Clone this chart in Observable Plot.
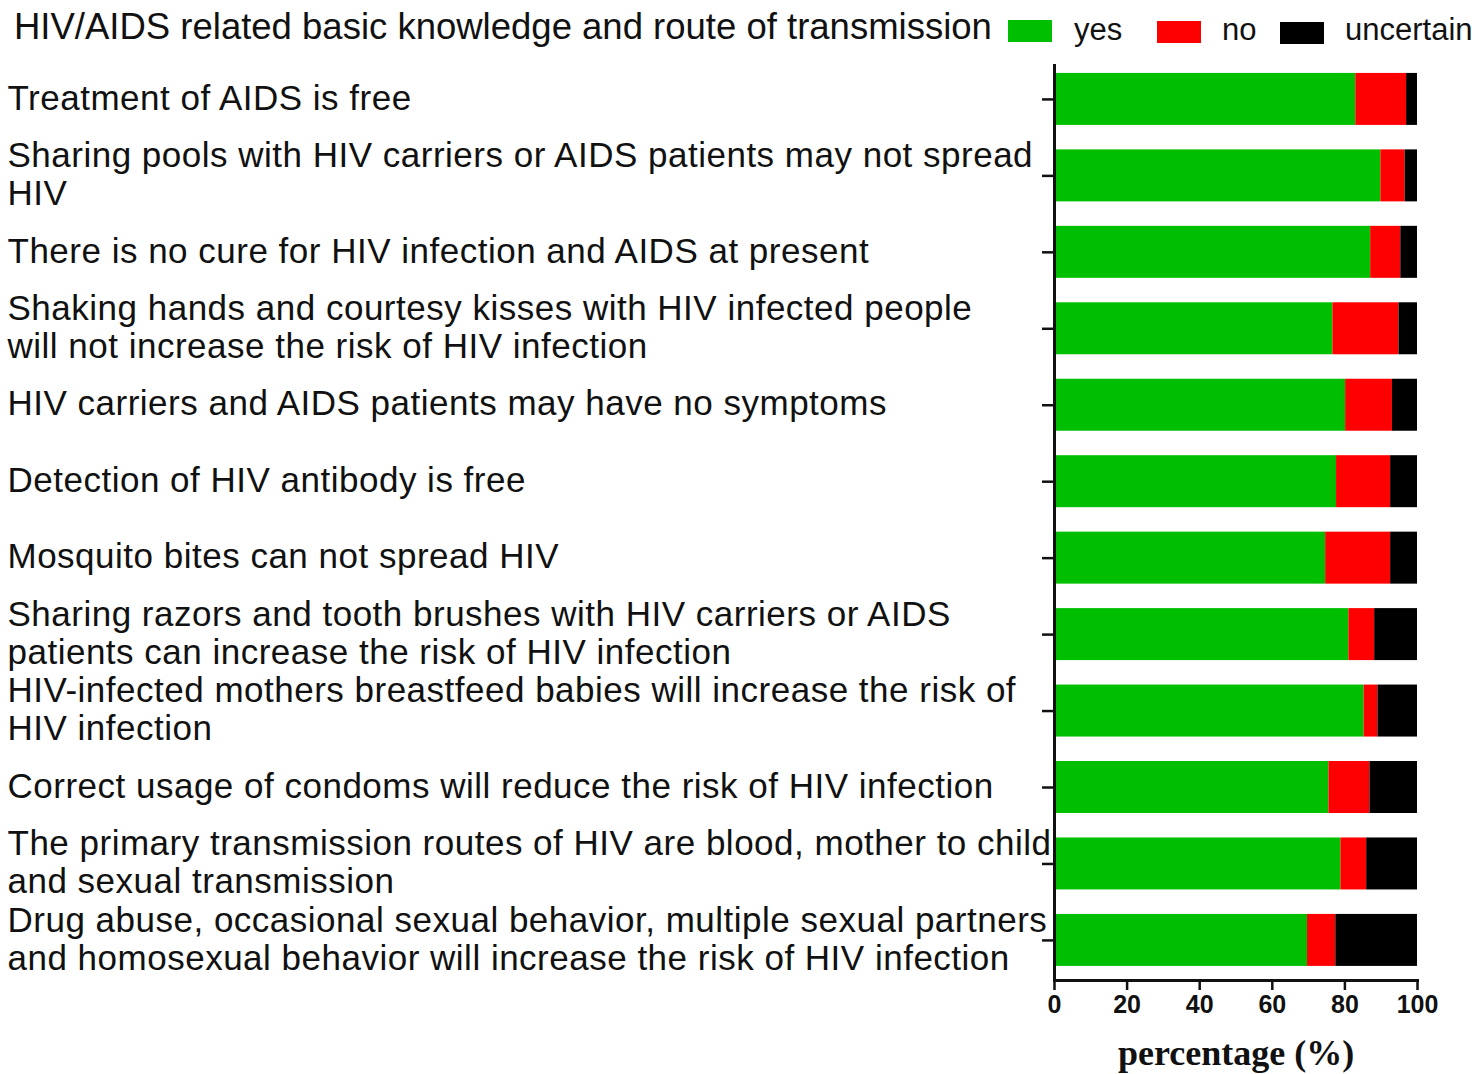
<!DOCTYPE html>
<html>
<head>
<meta charset="utf-8">
<script src="https://cdn.jsdelivr.net/npm/d3@7"></script>
<script src="https://cdn.jsdelivr.net/npm/@observablehq/plot@0.6"></script>
<style>
  html, body { margin: 0; padding: 0; background: #fff; }
  body { width: 1478px; height: 1074px; overflow: hidden; font-family: "Liberation Sans", Arial, sans-serif; }
  #header { position: relative; width: 1478px; height: 58px; color: #111; }
  #header .title { position: absolute; left: 14px; top: 7px; font-size: 36.5px; line-height: 40px; white-space: nowrap; }
  #header .sw { position: absolute; width: 44px; height: 22px; }
  #header .lab { position: absolute; top: 13px; font-size: 31px; line-height: 34px; white-space: nowrap; }
  #chart svg { display: block; }
</style>
</head>
<body>
<div id="header">
  <span class="title">HIV/AIDS related basic knowledge and route of transmission</span>
  <span class="sw" style="left:1008px; top:20px; background:#00bf00"></span>
  <span class="lab" style="left:1074px">yes</span>
  <span class="sw" style="left:1157px; top:21px; background:#ff0000"></span>
  <span class="lab" style="left:1222px">no</span>
  <span class="sw" style="left:1280px; top:22px; background:#000000"></span>
  <span class="lab" style="left:1345px">uncertain</span>
</div>
<div id="chart"></div>
<script>
const categories = [
  "Treatment of AIDS is free",
  "Sharing pools with HIV carriers or AIDS patients may not spread\nHIV",
  "There is no cure for HIV infection and AIDS at present",
  "Shaking hands and courtesy kisses with HIV infected people\nwill not increase the risk of HIV infection",
  "HIV carriers and AIDS patients may have no symptoms",
  "Detection of HIV antibody is free",
  "Mosquito bites can not spread HIV",
  "Sharing razors and tooth brushes with HIV carriers or AIDS\npatients can increase the risk of HIV infection",
  "HIV-infected mothers breastfeed babies will increase the risk of\nHIV infection",
  "Correct usage of condoms will reduce the risk of HIV infection",
  "The primary transmission routes of HIV are blood, mother to child\nand sexual transmission",
  "Drug abuse, occasional sexual behavior, multiple sexual partners\nand homosexual behavior will increase the risk of HIV infection"
];
const answers = ["yes", "no", "uncertain"];
const colors = ["#00bf00", "#ff0000", "#000000"];
const yesValues = [83.0, 89.9, 87.1, 76.7, 80.2, 77.7, 74.7, 81.1, 85.3, 75.6, 78.9, 69.7];
const noValues = [14.0, 6.7, 8.3, 18.2, 12.9, 14.9, 17.9, 7.1, 3.8, 11.3, 7.1, 7.8];
const uncertainValues = [3.0, 3.4, 4.6, 5.1, 6.9, 7.4, 7.4, 11.8, 10.9, 13.1, 14.0, 22.5];
const xTicks = [0, 20, 40, 60, 80, 100];
const xLabel = "percentage (%)";

const seriesValues = {yes: yesValues, no: noValues, uncertain: uncertainValues};
const rows = answers.flatMap(a => categories.map((c, i) => ({item: c, answer: a, value: seriesValues[a][i]})));

const chart = Plot.plot({
  width: 1478,
  height: 1016,
  marginLeft: 1054,
  marginRight: 61,
  marginTop: 7,
  marginBottom: 94,
  style: {fontFamily: "'Liberation Sans', Arial, sans-serif", background: "#fff", color: "#111"},
  x: {domain: [0, 100]},
  y: {domain: categories, paddingInner: 0.32, paddingOuter: 0.144, align: 0.36, round: false},
  color: {domain: answers, range: colors},
  marks: [
    Plot.barX(rows, Plot.stackX({x: "value", y: "item", fill: "answer", order: answers})),
    Plot.axisY({tickSize: 12, strokeWidth: 2.5, tickFormat: () => "", label: null}),
    Plot.axisY({tickSize: 0, tickPadding: 0, textAnchor: "start", dx: -1047, dy: -2, fontSize: 35, lineHeight: 1.09, label: null}),
    Plot.axisX({ticks: xTicks, tickSize: 10, tickPadding: 5, strokeWidth: 2.5, fontSize: 25, fontWeight: "bold", label: null}),
    Plot.frame({anchor: "left", strokeWidth: 3}),
    Plot.frame({anchor: "bottom", strokeWidth: 3}),
    Plot.text([xLabel], {frameAnchor: "bottom", dy: 84, fontFamily: "'Liberation Serif', 'Times New Roman', serif", fontWeight: "bold", fontSize: 36})
  ]
});
d3.select(chart).selectAll('g[aria-label="y-axis tick label"] text').attr("letter-spacing", 0.5);
document.getElementById("chart").appendChild(chart);
</script>
</body>
</html>
